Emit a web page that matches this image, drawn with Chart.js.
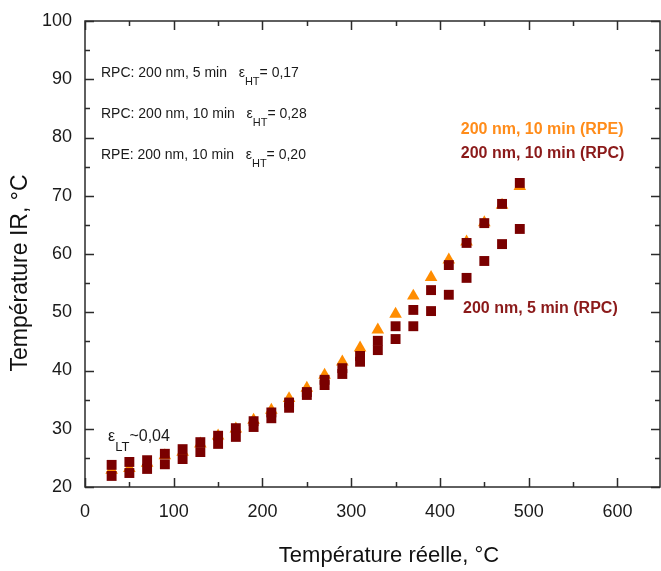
<!DOCTYPE html>
<html>
<head>
<meta charset="utf-8">
<script src="https://cdn.jsdelivr.net/npm/chart.js@4.4.1/dist/chart.umd.min.js"></script>
<style>
    html, body { margin: 0; padding: 0; background: #fff; }
    canvas { display: block; }
</style>
</head>
<body>
<canvas id="irChart" width="661" height="571"></canvas>
<script>
// IR temperature vs real temperature for three coatings

// Real temperature, °C
const temperatures = [30, 50, 70, 90, 110, 130, 150, 170, 190, 210, 230, 250,
    270, 290, 310, 330, 350, 370, 390, 410, 430, 450, 470, 490];

// IR temperature, °C
const rpe10min = [22.9, 23.2, 24.1, 25.4, 26.0, 27.4, 28.8, 30.0, 31.5, 33.2, 35.2, 37.0,
    39.2, 41.5, 43.9, 47.0, 49.7, 52.8, 56.0, 59.0, 62.1, 65.4, 68.4, 71.6];
const rpc10min = [23.8, 24.3, 24.6, 25.7, 26.5, 27.7, 28.8, 30.1, 31.3, 32.8, 34.5, 36.3,
    38.4, 40.4, 42.5, 45.1, 47.6, 50.4, 53.8, 58.1, 61.9, 65.3, 68.6, 72.2];
const rpc5min = [21.9, 22.4, 23.1, 23.9, 24.8, 26.0, 27.4, 28.6, 30.3, 31.8, 33.6, 35.8,
    37.5, 39.4, 41.5, 43.5, 45.4, 47.6, 50.2, 53.0, 55.9, 58.8, 61.7, 64.3];

// Tick labels
const xTickValues = [0, 100, 200, 300, 400, 500, 600];
const xMinorTicks = [50, 150, 250, 350, 450, 550];
const yTickValues = [20, 30, 40, 50, 60, 70, 80, 90, 100];
const yMinorTicks = [25, 35, 45, 55, 65, 75, 85, 95];

const FONT = '"Liberation Sans", Arial, Helvetica, sans-serif';
const SQUARE_RED = '#7a0000';
const ORANGE = '#ff8c00';

// Text blocks placed in data coordinates
const annotations = [
    { x: 18, y: 91.1, size: 14, color: '#1a1a1a', parts: [
        { text: 'RPC: 200 nm, 5 min   ε' }, { text: 'HT', sub: true }, { text: '= 0,17' }] },
    { x: 18, y: 84.0, size: 14, color: '#1a1a1a', parts: [
        { text: 'RPC: 200 nm, 10 min   ε' }, { text: 'HT', sub: true }, { text: '= 0,28' }] },
    { x: 18, y: 77.0, size: 14, color: '#1a1a1a', parts: [
        { text: 'RPE: 200 nm, 10 min   ε' }, { text: 'HT', sub: true }, { text: '= 0,20' }] },
    { x: 423.5, y: 81.3, size: 16, bold: true, color: '#ff8c1a', parts: [{ text: '200 nm, 10 min (RPE)' }] },
    { x: 423.5, y: 77.2, size: 16, bold: true, color: '#8b1a1a', parts: [{ text: '200 nm, 10 min (RPC)' }] },
    { x: 426, y: 50.6, size: 16, bold: true, color: '#8b1a1a', parts: [{ text: '200 nm, 5 min (RPC)' }] },
    { x: 26, y: 28.6, size: 16, color: '#1a1a1a', parts: [
        { text: 'ε' }, { text: 'LT', sub: true }, { text: '~0,04' }] }
];

function toPoints(values) {
    return temperatures.map((t, i) => ({ x: t, y: values[i] }));
}

// Draw a line of text with optional subscripts
function drawRichText(ctx, x, y, item) {
    let cx = x;
    item.parts.forEach(p => {
        const fs = p.sub ? Math.round(item.size * 0.8) : item.size;
        ctx.font = `${item.bold ? 'bold ' : ''}${fs}px ${FONT}`;
        ctx.fillText(p.text, cx, p.sub ? y + item.size * 0.65 : y);
        cx += ctx.measureText(p.text).width;
    });
}

// Closed frame with inward ticks, axis titles and annotations
const framePlugin = {
    id: 'framePlugin',
    afterDraw(chart) {
        const { ctx, chartArea: a, scales: { x, y } } = chart;
        ctx.save();
        ctx.strokeStyle = '#2b2b2b';
        ctx.lineWidth = 1.5;
        ctx.strokeRect(a.left, a.top, a.right - a.left, a.bottom - a.top);

        ctx.beginPath();
        const xTick = (v, len) => {
            const px = Math.round(x.getPixelForValue(v)) + 0.5;
            ctx.moveTo(px, a.bottom); ctx.lineTo(px, a.bottom - len);
            ctx.moveTo(px, a.top); ctx.lineTo(px, a.top + len);
        };
        const yTick = (v, len) => {
            const py = Math.round(y.getPixelForValue(v)) + 0.5;
            ctx.moveTo(a.left, py); ctx.lineTo(a.left + len, py);
            ctx.moveTo(a.right, py); ctx.lineTo(a.right - len, py);
        };
        xTickValues.forEach(v => xTick(v, 9));
        xMinorTicks.forEach(v => xTick(v, 5));
        yTickValues.forEach(v => yTick(v, 9));
        yMinorTicks.forEach(v => yTick(v, 5));
        ctx.stroke();

        // Axis titles
        ctx.fillStyle = '#111';
        ctx.textAlign = 'center';
        ctx.textBaseline = 'middle';
        ctx.font = `22px ${FONT}`;
        ctx.fillText('Température réelle, °C', 389, 556);
        ctx.save();
        ctx.translate(21, 273);
        ctx.rotate(-Math.PI / 2);
        ctx.font = `23px ${FONT}`;
        ctx.fillText('Température IR, °C', 0, 0);
        ctx.restore();

        // Annotations
        ctx.textAlign = 'left';
        annotations.forEach(item => {
            ctx.fillStyle = item.color;
            drawRichText(ctx, x.getPixelForValue(item.x), y.getPixelForValue(item.y), item);
        });
        ctx.restore();
    }
};

function createIrChart() {
    const ctx = document.getElementById('irChart');

    new Chart(ctx, {
        type: 'scatter',
        data: {
            datasets: [{
                label: '200 nm, 5 min (RPC)',
                data: toPoints(rpc5min),
                pointStyle: 'rect',
                pointRadius: 7,
                backgroundColor: SQUARE_RED,
                borderColor: SQUARE_RED,
                borderWidth: 0,
                order: 1
            }, {
                label: '200 nm, 10 min (RPC)',
                data: toPoints(rpc10min),
                pointStyle: 'rect',
                pointRadius: 7,
                backgroundColor: SQUARE_RED,
                borderColor: SQUARE_RED,
                borderWidth: 0,
                order: 1
            }, {
                label: '200 nm, 10 min (RPE)',
                data: toPoints(rpe10min),
                pointStyle: 'triangle',
                pointRadius: 7.3,
                backgroundColor: ORANGE,
                borderColor: ORANGE,
                borderWidth: 0,
                order: 2
            }]
        },
        options: {
            responsive: false,
            animation: false,
            layout: {
                autoPadding: false,
                padding: { top: 21, right: 1, left: 0, bottom: 0 }
            },
            scales: {
                x: {
                    type: 'linear',
                    min: 0,
                    max: 648,
                    grid: { display: false, drawTicks: false },
                    border: { display: false },
                    afterBuildTicks: scale => { scale.ticks = xTickValues.map(v => ({ value: v })); },
                    afterFit: scale => {
                        scale.height = 84;
                        scale.paddingLeft = 0;
                        scale.paddingRight = 0;
                    },
                    ticks: {
                        padding: 14,
                        color: '#1a1a1a',
                        font: { family: FONT, size: 18 },
                        maxRotation: 0
                    }
                },
                y: {
                    type: 'linear',
                    min: 20,
                    max: 100,
                    grid: { display: false, drawTicks: false },
                    border: { display: false },
                    afterBuildTicks: scale => { scale.ticks = yTickValues.map(v => ({ value: v })); },
                    afterFit: scale => {
                        scale.width = 85;
                        scale.paddingTop = 0;
                        scale.paddingBottom = 0;
                    },
                    ticks: {
                        padding: 13,
                        color: '#1a1a1a',
                        font: { family: FONT, size: 18 }
                    }
                }
            },
            plugins: {
                legend: { display: false },
                tooltip: { enabled: false }
            }
        },
        plugins: [framePlugin]
    });
}

createIrChart();
</script>
</body>
</html>
